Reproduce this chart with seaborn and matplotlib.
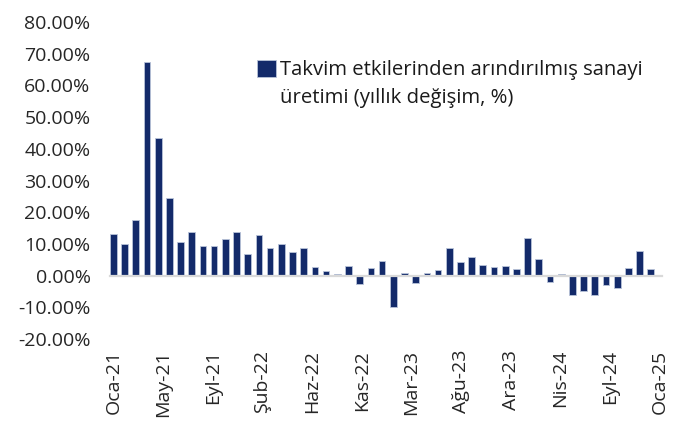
import numpy as np
import pandas as pd
import matplotlib.pyplot as plt
import seaborn as sns

# =========================
# Data (yıllık değişim, %)
# =========================
ay_adlari = ['Oca', 'Şub', 'Mar', 'Nis', 'May', 'Haz',
             'Tem', 'Ağu', 'Eyl', 'Eki', 'Kas', 'Ara']

tarihler = pd.date_range('2021-01-01', '2025-01-01', freq='MS')

degisim = [
    13.1, 10.0, 17.6, 67.3, 43.4, 24.6, 10.6, 13.8, 9.4, 9.3, 11.5, 13.7,   # 2021
    6.8, 12.9, 8.7, 10.1, 7.6, 8.7, 2.6, 1.4, 0.6, 3.1, -2.5, 2.5,          # 2022
    4.7, -9.9, 0.8, -2.3, 0.9, 1.8, 8.8, 4.3, 6.0, 3.5, 2.7, 3.1,           # 2023
    2.1, 11.9, 5.1, -1.9, 0.6, -6.0, -4.9, -6.1, -3.1, -3.9, 2.5, 7.8,      # 2024
    2.1,                                                                    # 2025
]

etiket = 'Takvim etkilerinden arındırılmış sanayi\nüretimi (yıllık değişim, %)'

# Excel tarih ekseni: etiketler 135 günde bir
tick_gun = 135
tick_sayisi = 12

df = pd.DataFrame({
    'idx': np.arange(len(tarihler)),
    'deger': degisim,
})

# =========================
# Style
# =========================
sns.set_style('white')
plt.rcParams['font.family'] = ['Open Sans', 'DejaVu Sans']

fig = plt.figure(figsize=(6.93, 4.23), dpi=100)
ax = fig.add_axes([110 / 693, (423 - 339) / 423, 552 / 693, 317 / 423])

sns.barplot(
    data=df,
    x='idx',
    y='deger',
    color='#132a6a',
    saturation=1,
    width=0.6,
    edgecolor='#b9c3d9',
    linewidth=0.6,
    label=etiket,
    ax=ax,
)

# =========================
# Axes
# =========================
ax.set_ylim(-20, 80)
ax.set_xlim(-0.3, 49.0)
ax.set_yticks(np.arange(-20, 81, 10))
ax.set_yticklabels([f'{v:.2f}%' for v in np.arange(-20, 81, 10)])
ax.tick_params(axis='y', length=0, pad=14, labelsize=14, labelcolor='#262626')

for s in ['top', 'right', 'left']:
    ax.spines[s].set_visible(False)

# sıfır çizgisi + küçük tick'ler
ay_gun = (tarihler[-1] - tarihler[0]).days / (len(tarihler) - 1)
tick_tarih = [tarihler[0] + pd.Timedelta(days=k * tick_gun) for k in range(tick_sayisi)]
tick_pos = [(t - tarihler[0]).days / ay_gun for t in tick_tarih]
tick_lbl = [f"{ay_adlari[t.month - 1]}-{str(t.year)[2:]}" for t in tick_tarih]

ax.spines['bottom'].set_position(('data', 0))
ax.spines['bottom'].set_color('#d9d9d9')
ax.spines['bottom'].set_linewidth(1.6)
ax.spines['bottom'].set_zorder(3)
ax.set_xticks(tick_pos)
ax.tick_params(axis='x', direction='out', length=5, width=1.6,
               color='#d9d9d9', labelbottom=False)
ax.set_xlabel('')
ax.set_ylabel('')

sec = ax.secondary_xaxis('bottom')
sec.set_xticks(tick_pos, tick_lbl)
sec.tick_params(length=0, pad=8, labelsize=14, labelcolor='#262626', rotation=90)
sec.spines['bottom'].set_visible(False)

# =========================
# Legend
# =========================
leg = ax.legend(
    loc='upper left',
    bbox_to_anchor=(257 / 693, (423 - 60) / 423),
    bbox_transform=fig.transFigure,
    frameon=False,
    fontsize=14.6,
    handlelength=0.95,
    handleheight=0.95,
    handletextpad=0.2,
    borderpad=0,
    borderaxespad=0,
)
for t in leg.get_texts():
    t.set_color('#1a1a1a')
    t.set_linespacing(1.5)

# kare, ilk satırla hizalı olsun
for col in leg._legend_handle_box.get_children():
    for hp in col.get_children():
        hp.align = 'top'

plt.savefig('out.png', dpi=100)
